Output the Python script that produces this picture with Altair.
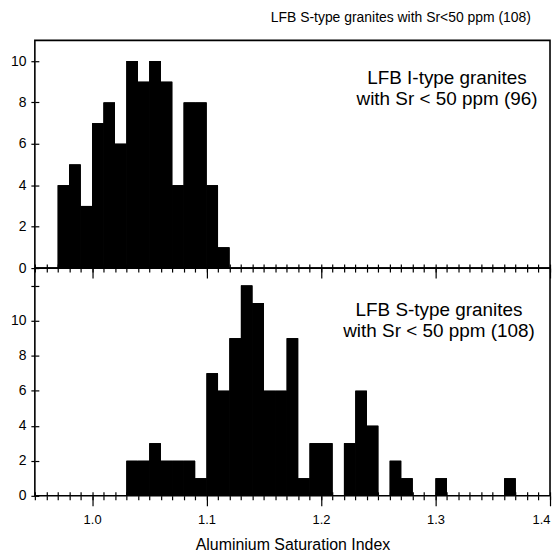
import altair as alt
import pandas as pd

# ---- data (bin left edges, bin width 0.01) ----
i_bins = [0.97, 0.98, 0.99, 1.00, 1.01, 1.02, 1.03, 1.04, 1.05, 1.06, 1.07, 1.08, 1.09, 1.10, 1.11]
i_counts = [4, 5, 3, 7, 8, 6, 10, 9, 10, 9, 4, 8, 8, 4, 1]

s_bins = [1.03, 1.04, 1.05, 1.06, 1.07, 1.08, 1.09, 1.10, 1.11, 1.12, 1.13, 1.14, 1.15,
          1.16, 1.17, 1.18, 1.19, 1.20, 1.22, 1.23, 1.24, 1.26, 1.27, 1.30, 1.36]
s_counts = [2, 2, 3, 2, 2, 2, 1, 7, 6, 9, 12, 11, 6, 6, 9, 1, 3, 3, 3, 6, 4, 2, 1, 1, 1]

BIN_W = 0.01

x_major = [1.0, 1.1, 1.2, 1.3, 1.4]
x_minor = [round(0.95 + 0.01 * k, 2) for k in range(46)]
y_top_ticks = [0, 2, 4, 6, 8, 10]
y_bot_ticks = [0, 2, 4, 6, 8, 10, 12]

top_note = ["LFB I-type granites", "with Sr < 50 ppm (96)"]
bot_note = ["LFB S-type granites", "with Sr < 50 ppm (108)"]
header = "LFB S-type granites with Sr<50 ppm (108)"

FONT = "Liberation Sans"
W = 518
H_TOP = 229
H_BOT = 229


def panel(bins, counts, ymax, yticks, show_labels, note, note_x, note_y, height, header_text=None):
    df = pd.DataFrame({"start": bins,
                       "end": [round(b + BIN_W, 2) for b in bins],
                       "count": counts})
    xs = alt.Scale(domain=[0.95, 1.40], nice=False, zero=False)
    ys = alt.Scale(domain=[0, ymax], nice=False)
    base = alt.Chart(df)

    major_axis = alt.Axis(values=x_major, orient="bottom", tickSize=10, labels=show_labels,
                          format=".1f", labelFontSize=13, labelPadding=8, labelFlush=True,
                          domain=False, grid=False, titleFontSize=16, titlePadding=10)
    y_main = alt.Axis(values=yticks, orient="left", tickSize=4, labelPadding=5, labelFontSize=14,
                      domain=False, grid=False,
                      labelExpr="datum.value <= 10 ? datum.label : ''")
    bars = base.mark_rect(color="black").encode(
        x=alt.X("start:Q", scale=xs, axis=major_axis,
                title="Aluminium Saturation Index" if show_labels else None),
        x2="end:Q",
        y=alt.Y("count:Q", scale=ys, axis=y_main, title=None),
        y2=alt.datum(0),
    )
    minor_out = base.mark_rect(color="black").encode(
        x=alt.X("start:Q", scale=xs, title=None,
                axis=alt.Axis(values=x_minor, orient="bottom", tickSize=4, labels=False,
                              domain=False, grid=False)),
        x2="end:Q",
        y=alt.Y("count:Q", scale=ys, title=None,
                axis=alt.Axis(values=yticks, orient="left", tickSize=4, labels=False,
                              domain=False, grid=False, offset=-4)),
        y2=alt.datum(0),
    )
    minor_in = base.mark_rect(color="black").encode(
        x=alt.X("start:Q", scale=xs, title=None,
                axis=alt.Axis(values=x_minor, orient="bottom", tickSize=4, labels=False,
                              domain=False, grid=False, offset=-4)),
        x2="end:Q",
        y=alt.Y("count:Q", scale=ys, axis=None),
        y2=alt.datum(0),
    )
    ndf = pd.DataFrame({"x": [note_x], "y": [note_y]})
    text = alt.Chart(ndf).mark_text(text=note, font=FONT, fontSize=19, lineHeight=21,
                                     align="center", baseline="alphabetic", color="black").encode(
        x=alt.X("x:Q", scale=xs, axis=None),
        y=alt.Y("y:Q", scale=ys, axis=None),
    )
    layers = [bars, minor_out, minor_in, text]
    if header_text is not None:
        hdf = pd.DataFrame({"x": [1.3833], "y": [11.88]})
        layers.append(alt.Chart(hdf).mark_text(text=header_text, font=FONT, fontSize=14,
                                               align="right", baseline="alphabetic",
                                               color="black").encode(
            x=alt.X("x:Q", scale=xs, axis=None),
            y=alt.Y("y:Q", scale=ys, axis=None),
        ))
    return alt.layer(*layers).resolve_axis(x="independent", y="independent").properties(
        width=W, height=height)


top = panel(i_bins, i_counts, 11, y_top_ticks, False, top_note, 1.31, 8.9, H_TOP, header)
bottom = panel(s_bins, s_counts, 13, y_bot_ticks, True, bot_note, 1.303, 10.28, H_BOT)

chart = alt.vconcat(top, bottom, spacing=0, bounds="flush").properties(
    padding={"left": 1, "top": 0, "right": 0, "bottom": 2}
).configure_view(
    stroke="black", strokeWidth=1.6
).configure_axis(
    tickColor="black", tickWidth=1.2, labelColor="black", labelFont=FONT,
    titleFont=FONT, titleColor="black", titleFontWeight="normal"
)

chart.save("out.html", embed_options={"renderer": "svg", "actions": False})
